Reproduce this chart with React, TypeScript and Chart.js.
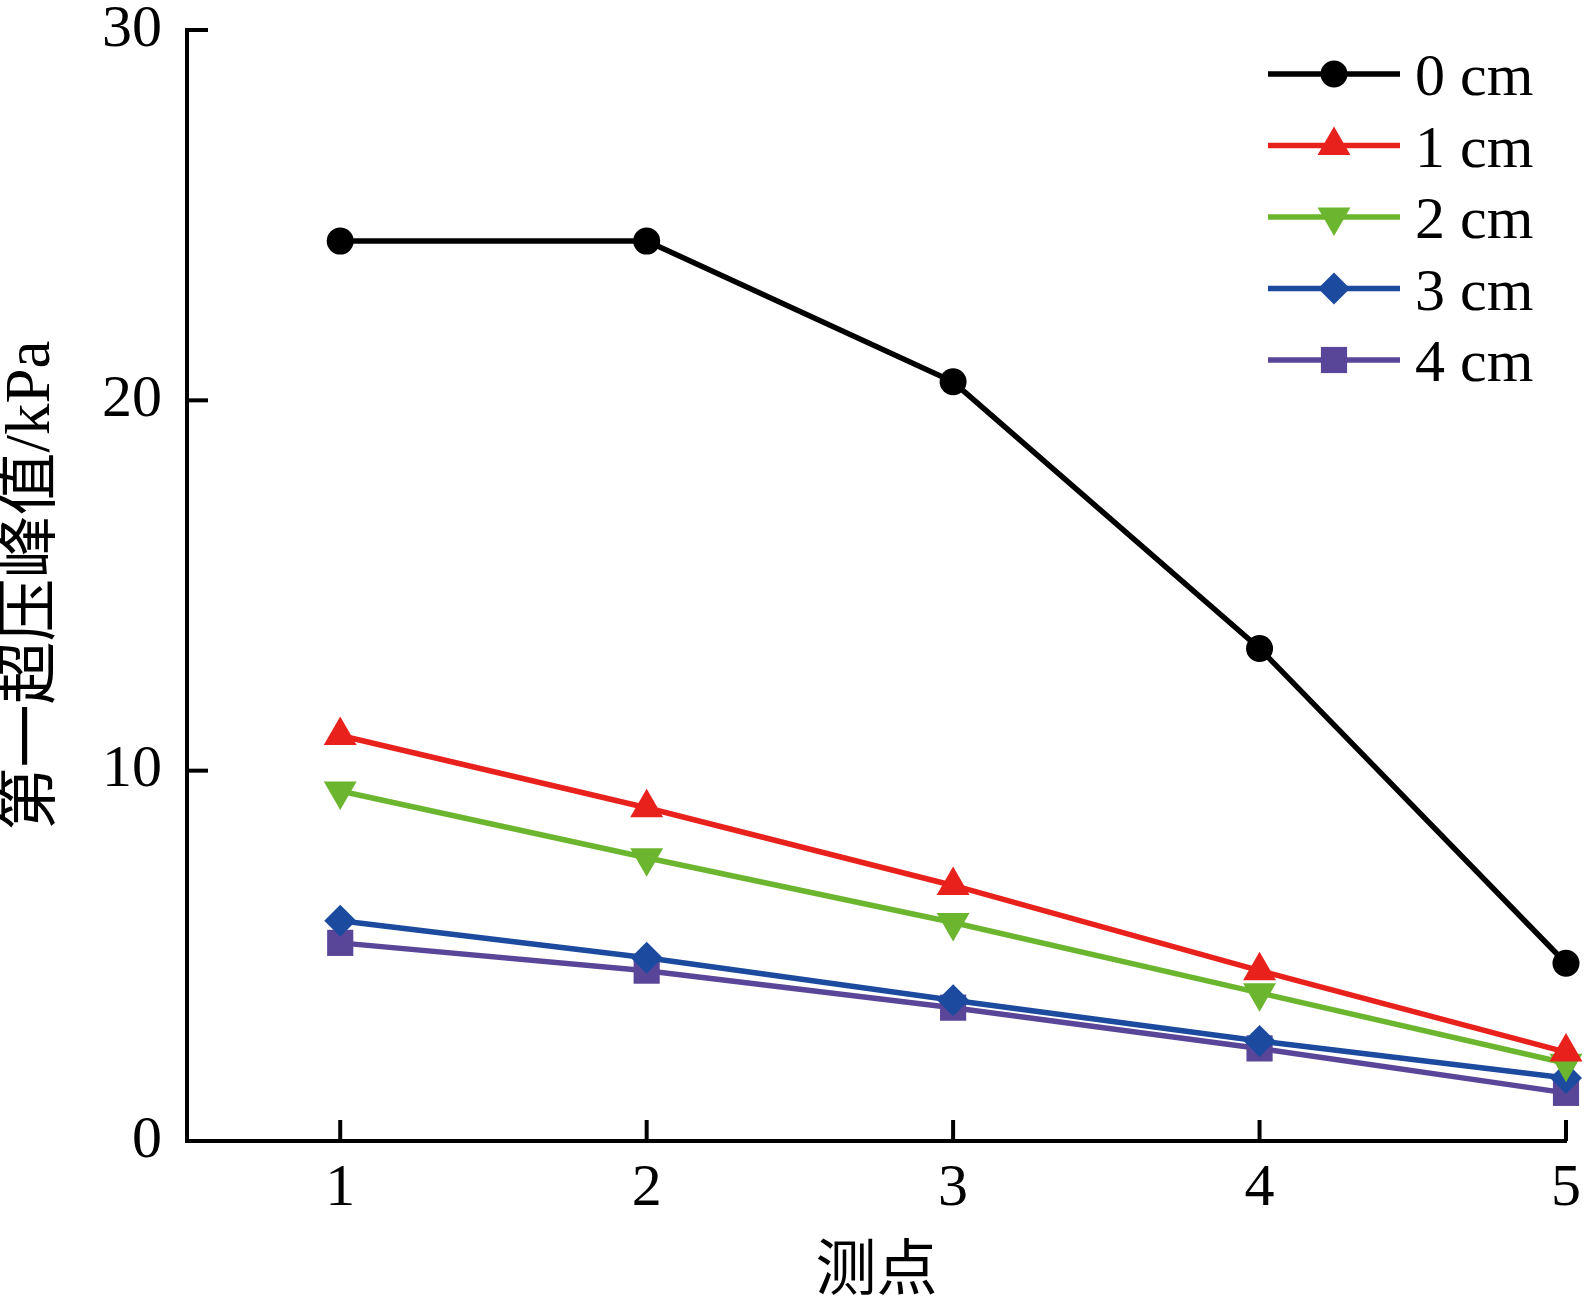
import { useEffect, useRef } from "react"
import { Chart, registerables } from "chart.js"
import { drawPoint } from "chart.js/helpers"

Chart.register(...registerables)

// measuring points along the x axis
const points = [1, 2, 3, 4, 5]
const seriesNames = ["0 cm", "1 cm", "2 cm", "3 cm", "4 cm"]
// first overpressure peak, kPa
const peak0 = [24.3, 24.3, 20.5, 13.3, 4.8]
const peak1 = [10.95, 9.0, 6.9, 4.6, 2.4]
const peak2 = [9.45, 7.65, 5.9, 4.0, 2.1]
const peak3 = [5.95, 4.95, 3.8, 2.7, 1.7]
const peak4 = [5.35, 4.6, 3.6, 2.5, 1.3]
const xTicks = [1, 2, 3, 4, 5]
const yTicks = [0, 10, 20, 30]

const serif = "'Liberation Serif', 'Times New Roman', serif"
const titleFont = "'Liberation Serif', 'Noto Sans CJK SC', serif"

const styles = [
  { color: "#000000", pointStyle: "circle", radius: 13.5, rotation: 0 },
  { color: "#e8211c", pointStyle: "triangle", radius: 19, rotation: 0 },
  { color: "#6bb62e", pointStyle: "triangle", radius: 19, rotation: 180 },
  { color: "#1b4a9e", pointStyle: "rectRot", radius: 16, rotation: 0 },
  { color: "#5a4698", pointStyle: "rect", radius: 18.5, rotation: 0 },
]

// inward tick marks on left and bottom axes
const tickMarks = {
  id: "tickMarks",
  beforeDatasetsDraw(chart: any) {
    const { ctx, chartArea, scales } = chart
    const len = 21
    ctx.save()
    ctx.strokeStyle = "#000"
    ctx.lineWidth = 4
    scales.x.ticks.forEach((t: any) => {
      const px = scales.x.getPixelForValue(t.value)
      ctx.beginPath()
      ctx.moveTo(px, chartArea.bottom)
      ctx.lineTo(px, chartArea.bottom - len)
      ctx.stroke()
    })
    scales.y.ticks.forEach((t: any) => {
      const py = scales.y.getPixelForValue(t.value)
      ctx.beginPath()
      ctx.moveTo(chartArea.left, py)
      ctx.lineTo(chartArea.left + len, py)
      ctx.stroke()
    })
    ctx.restore()
  },
}

// legend with line + marker, like the original figure
const lineLegend = {
  id: "lineLegend",
  afterDraw(chart: any, _args: any, opts: any) {
    const { ctx } = chart
    ctx.save()
    chart.data.datasets.forEach((ds: any, i: number) => {
      const y = opts.top + i * opts.rowGap
      ctx.strokeStyle = ds.borderColor
      ctx.lineWidth = ds.borderWidth
      ctx.beginPath()
      ctx.moveTo(opts.lineStart, y)
      ctx.lineTo(opts.lineEnd, y)
      ctx.stroke()
      ctx.fillStyle = ds.pointBackgroundColor
      drawPoint(
        ctx,
        { pointStyle: ds.pointStyle, radius: ds.pointRadius, rotation: ds.pointRotation, borderWidth: 0 } as any,
        (opts.lineStart + opts.lineEnd) / 2,
        y
      )
      ctx.fillStyle = "#000"
      ctx.font = `60px ${serif}`
      ctx.textBaseline = "alphabetic"
      ctx.textAlign = "left"
      ctx.fillText(ds.label, opts.textX, y + 21)
    })
    ctx.restore()
  },
}

export default function App() {
  const chartRef = useRef<HTMLCanvasElement>(null)
  const chartInstance = useRef<Chart | null>(null)

  useEffect(() => {
    document.body.style.margin = "0"
    if (!chartRef.current) return
    const ctx = chartRef.current.getContext("2d")
    if (!ctx) return

    if (chartInstance.current) {
      chartInstance.current.destroy()
    }

    const series = [peak0, peak1, peak2, peak3, peak4]

    chartInstance.current = new Chart(ctx, {
      type: "line",
      data: {
        datasets: series.map((values, i) => ({
          label: seriesNames[i],
          data: values.map((v, j) => ({ x: points[j], y: v })),
          borderColor: styles[i].color,
          backgroundColor: styles[i].color,
          pointBackgroundColor: styles[i].color,
          borderWidth: 5.5,
          pointStyle: styles[i].pointStyle as any,
          pointRadius: styles[i].radius,
          pointRotation: styles[i].rotation,
          pointBorderWidth: 0,
          tension: 0,
          clip: false as any,
        })),
      },
      options: {
        animation: false,
        responsive: true,
        maintainAspectRatio: false,
        layout: { padding: { top: 30, right: 18, left: 0, bottom: 0 } },
        scales: {
          x: {
            type: "linear",
            min: 0.5,
            max: 5,
            afterBuildTicks: (scale: any) => {
              scale.ticks = xTicks.map((v) => ({ value: v }))
            },
            afterFit: (scale: any) => {
              scale.height = 163
              scale.paddingLeft = 0
              scale.paddingRight = 0
            },
            grid: { display: true, drawOnChartArea: false, drawTicks: false },
            border: { display: true, color: "#000", width: 4 },
            ticks: {
              color: "#000",
              padding: 18,
              maxRotation: 0,
              font: { family: serif, size: 60, lineHeight: 1 },
            },
            title: {
              display: true,
              text: "测点",
              color: "#000",
              padding: { top: 0, bottom: 0 },
              font: { family: titleFont, size: 61, lineHeight: 1 },
            },
          },
          y: {
            min: 0,
            max: 30,
            afterBuildTicks: (scale: any) => {
              scale.ticks = yTicks.map((v) => ({ value: v }))
            },
            afterFit: (scale: any) => {
              scale.width = 187
              scale.paddingTop = 0
              scale.paddingBottom = 0
            },
            grid: { display: true, drawOnChartArea: false, drawTicks: false },
            border: { display: true, color: "#000", width: 4 },
            ticks: {
              color: "#000",
              padding: 25,
              font: { family: serif, size: 60, lineHeight: 1 },
            },
            title: {
              display: true,
              text: "第一超压峰值/kPa",
              color: "#000",
              padding: { top: 1, bottom: 0 },
              font: { family: titleFont, size: 63, lineHeight: 1 },
            },
          },
        },
        plugins: {
          legend: { display: false },
          tooltip: { enabled: false },
          lineLegend: { top: 74, rowGap: 71.5, lineStart: 1268, lineEnd: 1400, textX: 1415 },
        } as any,
      },
      plugins: [tickMarks, lineLegend],
    })

    return () => {
      if (chartInstance.current) {
        chartInstance.current.destroy()
        chartInstance.current = null
      }
    }
  }, [])

  return (
    <div style={{ position: "relative", width: 1585, height: 1304, background: "#fff" }}>
      <canvas ref={chartRef}></canvas>
    </div>
  )
}
